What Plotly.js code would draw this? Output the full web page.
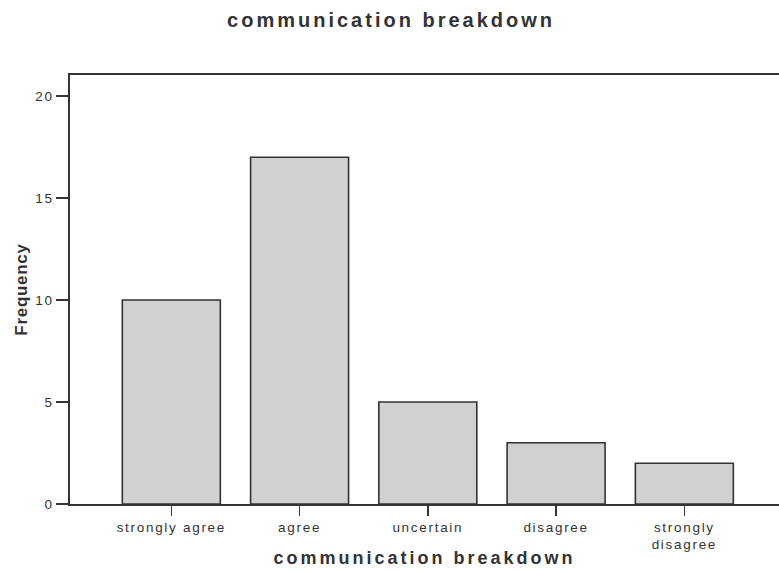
<!DOCTYPE html>
<html>
<head>
<meta charset="utf-8">
<script src="https://cdn.plot.ly/plotly-3.0.1.min.js"></script>
<style>
  html, body { margin: 0; padding: 0; background: #ffffff; }
  #chart { width: 779px; height: 570px; }
  .gtitle { letter-spacing: 3px; }
  .xtitle { letter-spacing: 3px; }
  .ytitle { letter-spacing: 0.7px; }
  .xtick text, .ytick text { letter-spacing: 1.7px; }
</style>
</head>
<body>
<div id="chart"></div>
<script>
// ---- data ----
const categories = ['strongly agree', 'agree', 'uncertain', 'disagree', 'strongly<br>disagree'];
const frequency = [10, 17, 5, 3, 2];
const yTickVals = [0, 5, 10, 15, 20];
const chartTitle = 'communication breakdown';
const xTitle = 'communication breakdown';
const yTitle = 'Frequency';

const ink = '#333333';
const fontFam = 'Liberation Sans, Arial, Helvetica, sans-serif';

const trace = {
  type: 'bar',
  x: categories,
  y: frequency,
  width: 0.764,
  marker: { color: '#d1d1d1', line: { color: ink, width: 1.6 } },
  hoverinfo: 'x+y'
};

const layout = {
  width: 779,
  height: 570,
  margin: { l: 70, r: 0, t: 75, b: 66 },
  paper_bgcolor: '#ffffff',
  plot_bgcolor: '#ffffff',
  showlegend: false,
  font: { family: fontFam, color: ink, size: 13 },
  title: {
    text: chartTitle,
    font: { family: fontFam, size: 20, weight: 'bold', color: ink },
    xref: 'container', x: 0.502, xanchor: 'center',
    yref: 'container', y: 1 - 20 / 570, yanchor: 'middle'
  },
  xaxis: {
    type: 'category',
    range: [-0.79, 4.738],
    showline: true, linecolor: ink, linewidth: 1.6, mirror: true,
    ticks: 'outside', ticklen: 10, tickwidth: 1.6, tickcolor: ink,
    showgrid: false, zeroline: false,
    tickfont: { family: fontFam, size: 13.5, color: ink },
    title: {
      text: xTitle,
      font: { family: fontFam, size: 18, weight: 'bold', color: ink },
      standoff: 0
    },
    automargin: false,
    fixedrange: true
  },
  yaxis: {
    range: [0, 21.03],
    tickvals: yTickVals,
    showline: true, linecolor: ink, linewidth: 1.6, mirror: false,
    ticks: 'outside', ticklen: 12, tickwidth: 1.6, tickcolor: ink,
    showgrid: false, zeroline: false,
    tickfont: { family: fontFam, size: 13.5, color: ink },
    title: {
      text: yTitle,
      font: { family: fontFam, size: 17, weight: 'bold', color: ink },
      standoff: 3
    },
    automargin: false,
    fixedrange: true
  },
  bargap: 0.236
};

Plotly.newPlot('chart', [trace], layout, { displayModeBar: false, staticPlot: true });
</script>
</body>
</html>
